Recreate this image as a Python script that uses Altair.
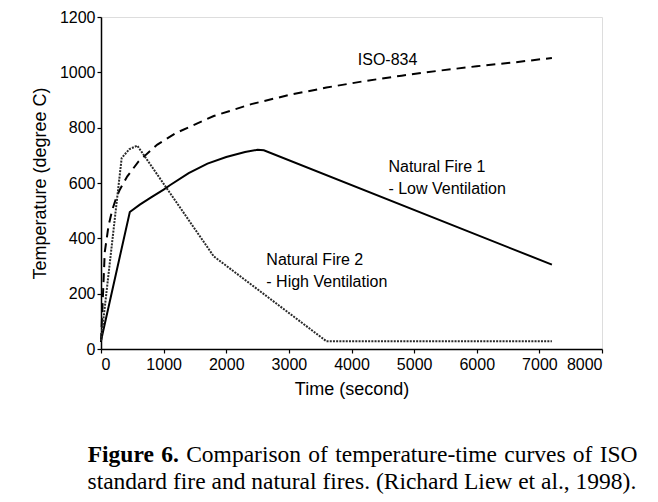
import altair as alt
import pandas as pd

# ISO-834 standard fire curve
iso_t = [0, 60, 120, 180, 240, 300, 420, 600, 900, 1200, 1800, 2400, 3000, 3600, 4200, 4800, 5400, 6000, 6600, 7200]
iso_T = [25, 350, 445, 503, 544, 576, 624, 678, 739, 781, 842, 885, 918, 945, 968, 988, 1006, 1022, 1036, 1052]

# Natural Fire 1 - Low Ventilation
f1_t = [0, 460, 620, 800, 1000, 1100, 1400, 1700, 2000, 2300, 2500, 2600, 7200]
f1_T = [30, 495, 522, 548, 576, 592, 636, 670, 694, 712, 720, 718, 305]

# Natural Fire 2 - High Ventilation
f2_t = [0, 330, 450, 580, 1800, 3600, 7200]
f2_T = [30, 690, 722, 735, 335, 28, 28]

x_ticks = [0, 1000, 2000, 3000, 4000, 5000, 6000, 7000, 8000]
y_ticks = [0, 200, 400, 600, 800, 1000, 1200]

ann_text = ["ISO-834", "Natural Fire 1", "- Low Ventilation", "Natural Fire 2", "- High Ventilation"]
ann_t = [4100, 4590, 4590, 2640, 2640]
ann_T = [1044, 658, 578, 322, 243]

cap1_words = ["Figure", "6.", "Comparison", "of", "temperature-time", "curves", "of", "ISO"]
cap1_bold = [True, True, False, False, False, False, False, False]
cap2_text = "standard fire and natural fires. (Richard Liew et al., 1998)."

SANS = "Liberation Sans, Arial, sans-serif"
SERIF = "Liberation Serif, Times New Roman, serif"

# approximate Times advance widths (em) of the caption words, for justified layout
word_em = [2.833, 0.75, 4.889, 0.833, 6.887, 2.61, 0.833, 1.611]
CAP_SIZE = 23.5
cap_left, cap_right = -13.5, 536.5  # relative to plot origin
widths = [w * CAP_SIZE for w in word_em]
gap = (cap_right - cap_left - sum(widths)) / (len(widths) - 1)
cap1_x = []
pos = cap_left
for w in widths:
    cap1_x.append(pos + w / 2)
    pos += w + gap

iso_df = pd.DataFrame({"t": iso_t, "T": iso_T})
f1_df = pd.DataFrame({"t": f1_t, "T": f1_T})
f2_df = pd.DataFrame({"t": f2_t, "T": f2_T})
ann_df = pd.DataFrame({"t": ann_t, "T": ann_T, "label": ann_text})

xenc = alt.X("t:Q", scale=alt.Scale(domain=[0, 8000], nice=False),
             axis=alt.Axis(values=x_ticks, title="Time (second)", grid=False, tickSize=4,
                           labelFontSize=16, titleFontSize=18, labelFont=SANS, titleFont=SANS,
                           labelColor="black", titleColor="black", domainColor="black",
                           tickColor="black", titleFontWeight="normal", labelPadding=3,
                           titlePadding=8, domainWidth=1.5, tickWidth=1.2, format="d"))
yenc = alt.Y("T:Q", scale=alt.Scale(domain=[0, 1200], nice=False),
             axis=alt.Axis(values=y_ticks, title="Temperature (degree C)", grid=False, tickSize=4,
                           labelFontSize=16, titleFontSize=18, labelFont=SANS, titleFont=SANS,
                           labelColor="black", titleColor="black", domainColor="black",
                           tickColor="black", titleFontWeight="normal", labelPadding=2,
                           titlePadding=10, domainWidth=1.5, tickWidth=1.2, format="d"))

iso = alt.Chart(iso_df).mark_line(color="black", strokeWidth=2, strokeDash=[9, 6]).encode(x=xenc, y=yenc)
f1 = alt.Chart(f1_df).mark_line(color="black", strokeWidth=2).encode(x="t:Q", y="T:Q")
f2 = alt.Chart(f2_df).mark_line(color="#2a2a2a", strokeWidth=2, strokeDash=[2, 1.2]).encode(x="t:Q", y="T:Q")

ann = alt.Chart(ann_df).mark_text(align="left", baseline="middle", font=SANS, fontSize=16, color="black").encode(
    x="t:Q", y="T:Q", text="label:N")

cap_layers = []
for word, bold, cx in zip(cap1_words, cap1_bold, cap1_x):
    cap_layers.append(
        alt.Chart(pd.DataFrame({"a": [0]})).mark_text(
            align="center", baseline="alphabetic", font=SERIF, fontSize=CAP_SIZE,
            fontWeight="bold" if bold else "normal", color="black", text=word
        ).encode(x=alt.value(cx), y=alt.value(445))
    )
cap_layers.append(
    alt.Chart(pd.DataFrame({"a": [0]})).mark_text(
        align="left", baseline="alphabetic", font=SERIF, fontSize=CAP_SIZE, color="black", text=cap2_text
    ).encode(x=alt.value(cap_left), y=alt.value(472))
)

chart = alt.layer(iso, f1, f2, ann, *cap_layers).properties(
    width=501, height=332,
    autosize=alt.AutoSizeParams(type="none"),
    padding={"left": 93, "top": 9, "right": 40, "bottom": 145},
).configure_view(stroke="black", strokeWidth=1.5).configure(background="white")

chart.save("out.html", embed_options={"renderer": "svg", "actions": False})
